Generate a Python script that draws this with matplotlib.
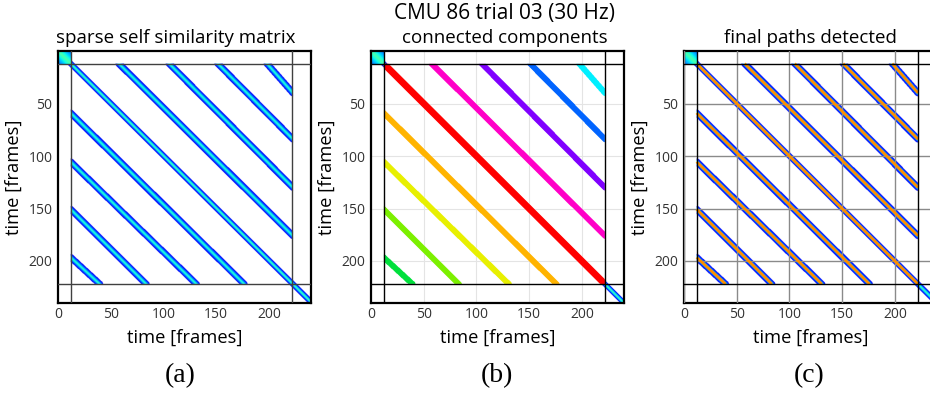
import numpy as np
import matplotlib
matplotlib.use("Agg")
import matplotlib.pyplot as plt
from matplotlib import colormaps
from matplotlib.colors import to_rgba

plt.rcParams['font.family'] = ['Open Sans', 'DejaVu Sans']

# ---- data -------------------------------------------------------------
N_FRAMES = 240
CUT_START = 12          # frames trimmed at the start
CUT_END = 222           # frames trimmed at the end

# repetition paths above the main diagonal: start column on row CUT_START,
# end row on column CUT_END
upper_start_x = [57.5, 105.0, 151.0, 197.5]
upper_end_y = [176.0, 130.0, 84.0, 40.0]
# repetition paths below the main diagonal: start row on column CUT_START,
# end column on row CUT_END
lower_start_y = [59.0, 105.5, 150.7, 196.5]
lower_end_x = [176.0, 130.8, 83.4, 39.5]

# connected-component colours: main diagonal, upper paths, lower paths
main_color = '#ff0000'
upper_colors = ['#ff00c8', '#8000ff', '#0064ff', '#00f0ff']
lower_colors = ['#ffb400', '#e8f000', '#7cf000', '#00e03c']

x_ticks = [0, 50, 100, 150, 200]
y_ticks = [50, 100, 150, 200]

# ---- geometry helpers ---------------------------------------------------
main_path = ((CUT_START, CUT_START), (CUT_END, CUT_END))
upper_paths = [((sx, CUT_START), (CUT_END, ey)) for sx, ey in zip(upper_start_x, upper_end_y)]
lower_paths = [((CUT_START, sy), (ex, CUT_END)) for sy, ex in zip(lower_start_y, lower_end_x)]
off_paths = upper_paths + lower_paths
off_colors = upper_colors + lower_colors

RES = 3
coords = (np.arange(N_FRAMES * RES) + 0.5) / RES
X, Y = np.meshgrid(coords, coords)


def seg_dist(p0, p1):
    x0, y0 = p0
    x1, y1 = p1
    dx, dy = x1 - x0, y1 - y0
    t = np.clip(((X - x0) * dx + (Y - y0) * dy) / (dx * dx + dy * dy), 0, 1)
    return np.hypot(X - (x0 + t * dx), Y - (y0 + t * dy))


inside = (X >= CUT_START) & (X <= CUT_END) & (Y >= CUT_START) & (Y <= CUT_END)

# similarity values on the jet scale ----------------------------------------
sim = np.zeros(X.shape)


def band(dist, half_w, lo=0.1, hi=0.43, power=1.25):
    t = np.clip(1 - dist / half_w, 0, 1)
    return np.where(t > 0, lo + (hi - lo) * t ** power, 0.0)


sim = np.fmax(sim, band(seg_dist((0, 0), (N_FRAMES, N_FRAMES)), 2.6, hi=0.46))
off_dists = [seg_dist(*p) for p in off_paths]
for d in off_dists:
    sim = np.fmax(sim, np.where(inside, band(d, 3.2), 0.0))

# start-up block in the top-left corner
corner = (X < CUT_START + 1) & (Y < CUT_START + 1)
sim = np.where(corner, np.fmax(sim, 0.44 - 0.018 * np.abs(X - Y)), sim)

jet = colormaps['jet']
sim_rgba = jet(sim)
sim_rgba[sim <= 0] = (1, 1, 1, 1)

# connected components image (transparent background so the grid shows) ----
comp_rgba = sim_rgba.copy()
comp_rgba[sim <= 0] = (1, 1, 1, 0)
comp_rgba[inside] = (1, 1, 1, 0)
d_main = seg_dist(*main_path)
comp_rgba[inside & (d_main < 3.5)] = to_rgba(main_color)
for d, c in zip(off_dists, off_colors):
    comp_rgba[inside & (d < 3.0)] = to_rgba(c)

# ---- figure -------------------------------------------------------------
W, H = 930, 397
fig = plt.figure(figsize=(W / 100, H / 100), dpi=100)

ax_left = [58, 371, 684]
ax_top, ax_w, ax_h = 51, 253, 252
axes = [fig.add_axes([l / W, (H - ax_top - ax_h) / H, ax_w / W, ax_h / H]) for l in ax_left]

titles = ['sparse self similarity matrix', 'connected components', 'final paths detected']
title_x = [176, 505, 810]
letters = ['(a)', '(b)', '(c)']
letter_x = [180, 497, 809]
images = [sim_rgba, comp_rgba, sim_rgba]
cut_colors = ['#404040', 'black', 'black']

for i, ax in enumerate(axes):
    ax.imshow(images[i], extent=[0, N_FRAMES, N_FRAMES, 0], interpolation='antialiased',
              zorder=1, aspect='auto')
    ax.set_xlim(0, N_FRAMES)
    ax.set_ylim(N_FRAMES, 0)
    ax.set_xticks(x_ticks)
    ax.set_yticks(y_ticks)
    ax.tick_params(length=0, labelsize=10, labelcolor='#333333')
    ax.tick_params(axis='y', pad=4)
    ax.tick_params(axis='x', pad=3)
    for s in ax.spines.values():
        s.set_linewidth(1.6)
    for v in (CUT_START, CUT_END):
        ax.axvline(v, color=cut_colors[i], lw=1.0, zorder=4)
        ax.axhline(v, color=cut_colors[i], lw=1.0, zorder=4)
    ax.set_xlabel('time [frames]', fontsize=13.2, labelpad=5)
    ax.set_ylabel('time [frames]', fontsize=13.2, labelpad=4)
    fig.text(title_x[i] / W, 1 - 38 / H, titles[i], fontsize=13.5,
             ha='center', va='center')
    fig.text(letter_x[i] / W, 1 - 376 / H, letters[i], fontsize=20,
             family='Liberation Serif', ha='center', va='center')

fig.text(505 / W, 1 - 13 / H, 'CMU 86 trial 03 (30 Hz)', fontsize=15,
         ha='center', va='center')

# light grid behind the components
axes[1].grid(True, color='#e4e4e4', lw=0.8)
axes[1].set_axisbelow(True)

# darker grid over the final paths, with the detected paths in orange
axes[2].grid(True, color='#8a8a8a', lw=1.0)
axes[2].set_axisbelow(False)
for p in [main_path] + off_paths:
    (x0, y0), (x1, y1) = p
    axes[2].plot([x0, x1], [y0, y1], color='#ff8c00', lw=2.0, zorder=3,
                 solid_capstyle='butt')

fig.savefig('out.png', dpi=100)
